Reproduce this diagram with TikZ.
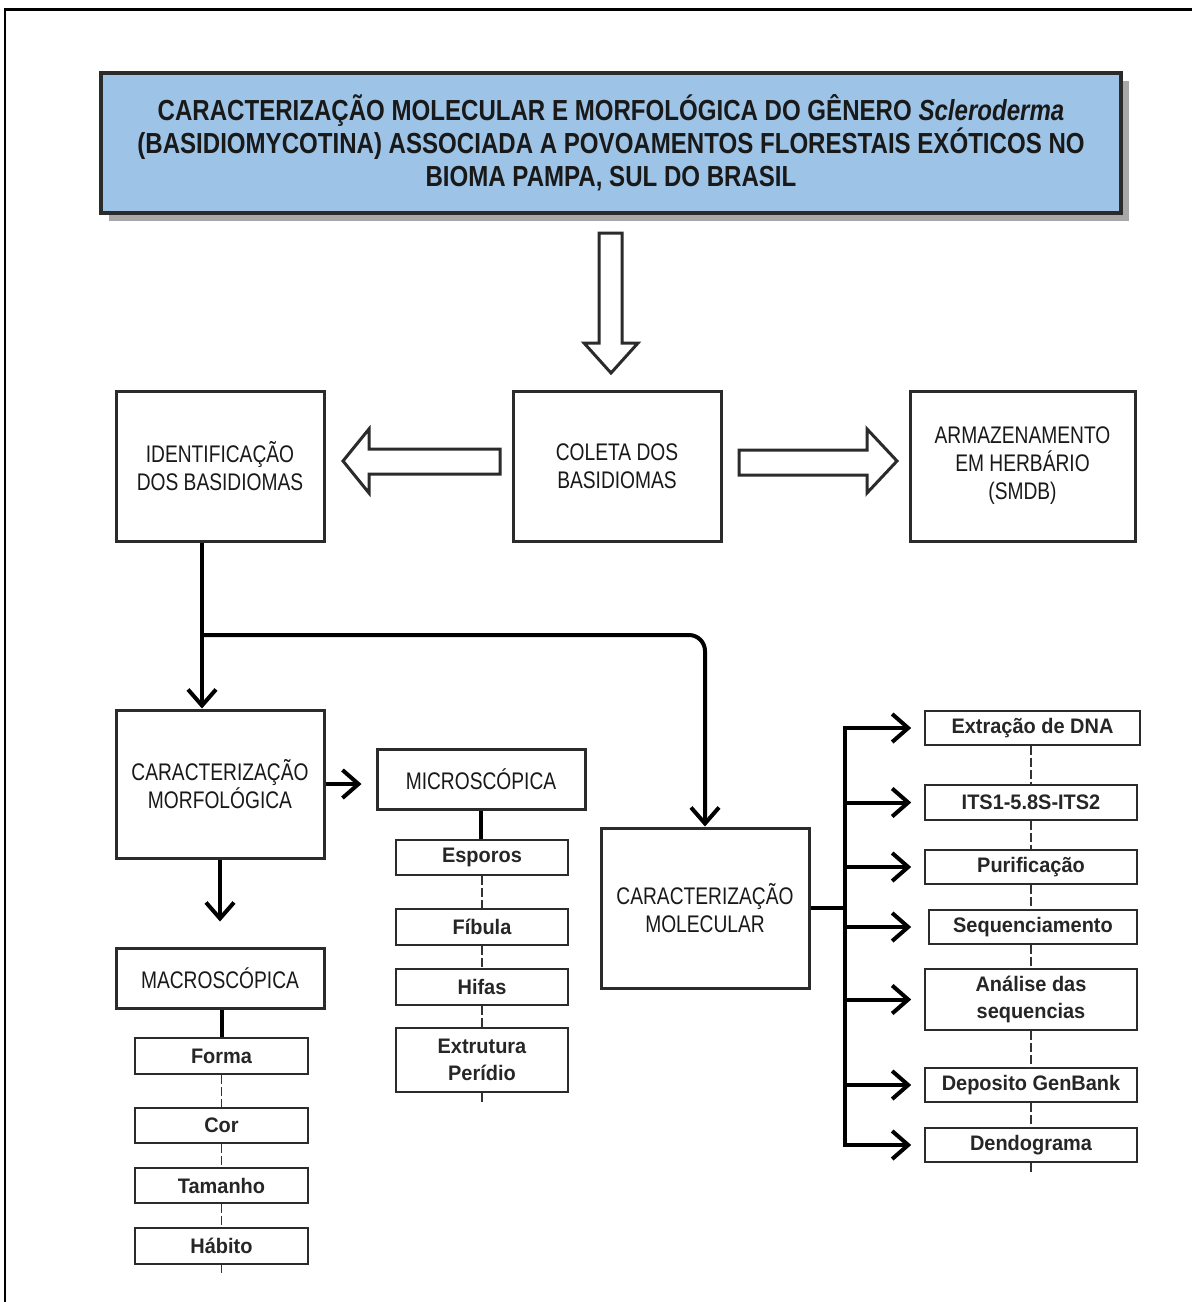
\documentclass[tikz,border=0pt]{standalone}
\usepackage{fontspec}
\setmainfont{Liberation Sans}
\newfontfamily\titlefont{Liberation Sans}[FakeStretch=0.83]
\newfontfamily\boxfont{Liberation Sans}[FakeStretch=0.8]
\newfontfamily\smallfont{Liberation Sans}[FakeStretch=0.95]
\usetikzlibrary{arrows.meta,calc,shadows}
\definecolor{titleblue}{HTML}{9DC3E6}
\definecolor{edge}{HTML}{2B2B2B}
\definecolor{shadowgray}{HTML}{A8A8A8}
\begin{document}
\begin{tikzpicture}[x=1pt,y=-1pt,
  bigbox/.style={draw=edge, line width=3pt, fill=white, inner sep=0pt, align=center,
    font=\boxfont\fontsize{24}{28}\selectfont, text=black!90},
  smallbox/.style={draw=edge, line width=1.6pt, fill=white, inner sep=0pt, align=center,
    font=\smallfont\bfseries\fontsize{21}{27}\selectfont, text=black!85},
  conn/.style={line width=4pt, draw=black},
  arr/.style={conn, -{Straight Barb[length=16pt,width=28pt]}},
  dashlink/.style={draw=black!80, line width=1.3pt, dash pattern=on 9pt off 3pt},
  hollow/.style={draw=edge, line width=3pt, fill=white, line join=miter}]

\useasboundingbox (0,0) rectangle (1192,1302);
\fill[white] (0,0) rectangle (1192,1302);

% outer frame (top and left)
\draw[line width=3pt] (4,9) -- (1192,9);
\draw[line width=1.5pt] (5,9) -- (5,1302);

% title
\node[draw=edge, line width=4pt, fill=titleblue, minimum width=1020pt, minimum height=140pt,
  inner sep=0pt, align=center, text=black!90,
  general shadow={fill=shadowgray, shadow xshift=8pt, shadow yshift=-8pt},
  font=\titlefont\bfseries\fontsize{29}{33}\selectfont] (title) at (611,143)
  {\raisebox{-4pt}{CARACTERIZAÇÃO MOLECULAR E MORFOLÓGICA DO GÊNERO \textit{Scleroderma}}\\
   \raisebox{-4pt}{(BASIDIOMYCOTINA) ASSOCIADA A POVOAMENTOS FLORESTAIS EXÓTICOS NO}\\
   \raisebox{-4pt}{BIOMA PAMPA, SUL DO BRASIL}};

% hollow arrows
\draw[hollow] (599,233) -- (622,233) -- (622,343) -- (638,343) -- (611,373) -- (584,343) -- (599,343) -- cycle;
\draw[hollow] (500,449) -- (500,474) -- (369,474) -- (369,493) -- (343,461) -- (369,429) -- (369,449) -- cycle;
\draw[hollow] (739,450) -- (867,450) -- (867,429) -- (897,461) -- (867,493) -- (867,475) -- (739,475) -- cycle;

% main row
\node[bigbox, minimum width=208pt, minimum height=150pt] (ident) at (220,466) {IDENTIFICAÇÃO\\DOS BASIDIOMAS};
\node[bigbox, minimum width=208pt, minimum height=150pt] (coleta) at (617,466) {COLETA DOS\\BASIDIOMAS};
\node[bigbox, minimum width=225pt, minimum height=150pt] (armaz) at (1022.5,466) {ARMAZENAMENTO\\EM HERBÁRIO\\(SMDB)};

% morphological branch
\node[bigbox, minimum width=208pt, minimum height=148pt] (morph) at (220,784) {CARACTERIZAÇÃO\\MORFOLÓGICA};
\node[bigbox, minimum width=208pt, minimum height=60pt] (micro) at (481,779) {MICROSCÓPICA};
\node[bigbox, minimum width=208pt, minimum height=60pt] (macro) at (220,978) {MACROSCÓPICA};

\node[smallbox, minimum width=172pt, minimum height=35pt] (esporos) at (482,857.5) {Esporos};
\node[smallbox, minimum width=172pt, minimum height=36pt] (fibula) at (482,927) {Fíbula};
\node[smallbox, minimum width=172pt, minimum height=36pt] (hifas) at (482,987) {Hifas};
\node[smallbox, minimum width=172pt, minimum height=64pt] (extrut) at (482,1060) {Extrutura\\Perídio};

\node[smallbox, minimum width=173pt, minimum height=36pt] (forma) at (221.5,1056) {Forma};
\node[smallbox, minimum width=173pt, minimum height=35pt] (cor) at (221.5,1125.5) {Cor};
\node[smallbox, minimum width=173pt, minimum height=35pt] (tamanho) at (221.5,1185.5) {Tamanho};
\node[smallbox, minimum width=173pt, minimum height=36pt] (habito) at (221.5,1246) {Hábito};

% molecular branch
\node[bigbox, minimum width=208pt, minimum height=160pt] (molec) at (705,908) {CARACTERIZAÇÃO\\MOLECULAR};

\node[smallbox, minimum width=215pt, minimum height=34pt] (extr) at (1032.5,728) {Extração de DNA};
\node[smallbox, minimum width=212pt, minimum height=35pt] (its) at (1031,802.5) {ITS1-5.8S-ITS2};
\node[smallbox, minimum width=212pt, minimum height=34pt] (purif) at (1031,867) {Purificação};
\node[smallbox, minimum width=208pt, minimum height=34pt] (seq) at (1033,927) {Sequenciamento};
\node[smallbox, minimum width=212pt, minimum height=61pt] (anal) at (1031,999.5) {Análise das\\sequencias};
\node[smallbox, minimum width=212pt, minimum height=34pt] (depos) at (1031,1085) {Deposito GenBank};
\node[smallbox, minimum width=212pt, minimum height=34pt] (dendo) at (1031,1145) {Dendograma};

% connectors: identification to characterisations
\coordinate (j) at (202,635);
\draw[conn] (ident.south -| j) -- (j);
\draw[arr] (j) -- (morph.north -| j);
\draw[arr, rounded corners=16pt] (j) -- (j -| molec.north) -- (molec.north);

\draw[arr, shorten >=14pt] (morph.east) -- (morph.east -| micro.west);
\draw[arr, shorten >=25pt] (morph.south) -- (morph.south |- macro.north);

\draw[conn] (micro.south) -- (micro.south |- esporos.north);
\draw[conn] (forma.north |- macro.south) -- (forma.north);

% dashed chains
\draw[dashlink] (esporos.south) -- (fibula.north);
\draw[dashlink] (fibula.south) -- (hifas.north);
\draw[dashlink] (hifas.south) -- (extrut.north);
\coordinate (tailM) at ($(extrut.south)+(0,9)$);
\draw[dashlink] (extrut.south) -- (tailM);

\draw[dashlink] (forma.south) -- (cor.north);
\draw[dashlink] (cor.south) -- (tamanho.north);
\draw[dashlink] (tamanho.south) -- (habito.north);
\coordinate (tailL) at ($(habito.south)+(0,8)$);
\draw[dashlink] (habito.south) -- (tailL);

\coordinate (colR) at (1031,0);
\draw[dashlink] (extr.south -| colR) -- (its.north -| colR);
\draw[dashlink] (its.south -| colR) -- (purif.north -| colR);
\draw[dashlink] (purif.south -| colR) -- (seq.north -| colR);
\draw[dashlink] (seq.south -| colR) -- (anal.north -| colR);
\draw[dashlink] (anal.south -| colR) -- (depos.north -| colR);
\draw[dashlink] (depos.south -| colR) -- (dendo.north -| colR);
\coordinate (tailR) at ($(dendo.south -| colR)+(0,9)$);
\draw[dashlink] (dendo.south -| colR) -- (tailR);

% molecular bus
\coordinate (bus) at (845,908);
\draw[conn] (molec.east) -- (molec.east -| bus);
\draw[conn, {Straight Barb[length=16pt,width=28pt]}-{Straight Barb[length=16pt,width=28pt]},
  shorten <=13pt, shorten >=13pt] (extr.west) -- (extr.west -| bus) -- (dendo.west -| bus) -- (dendo.west);
\draw[arr, shorten >=13pt] (its.west -| bus) -- (its.west);
\draw[arr, shorten >=13pt] (purif.west -| bus) -- (purif.west);
\draw[arr, shorten >=17pt] (seq.west -| bus) -- (seq.west);
\draw[arr, shorten >=13pt] (anal.west -| bus) -- (anal.west);
\draw[arr, shorten >=13pt] (depos.west -| bus) -- (depos.west);
\end{tikzpicture}
\end{document}
